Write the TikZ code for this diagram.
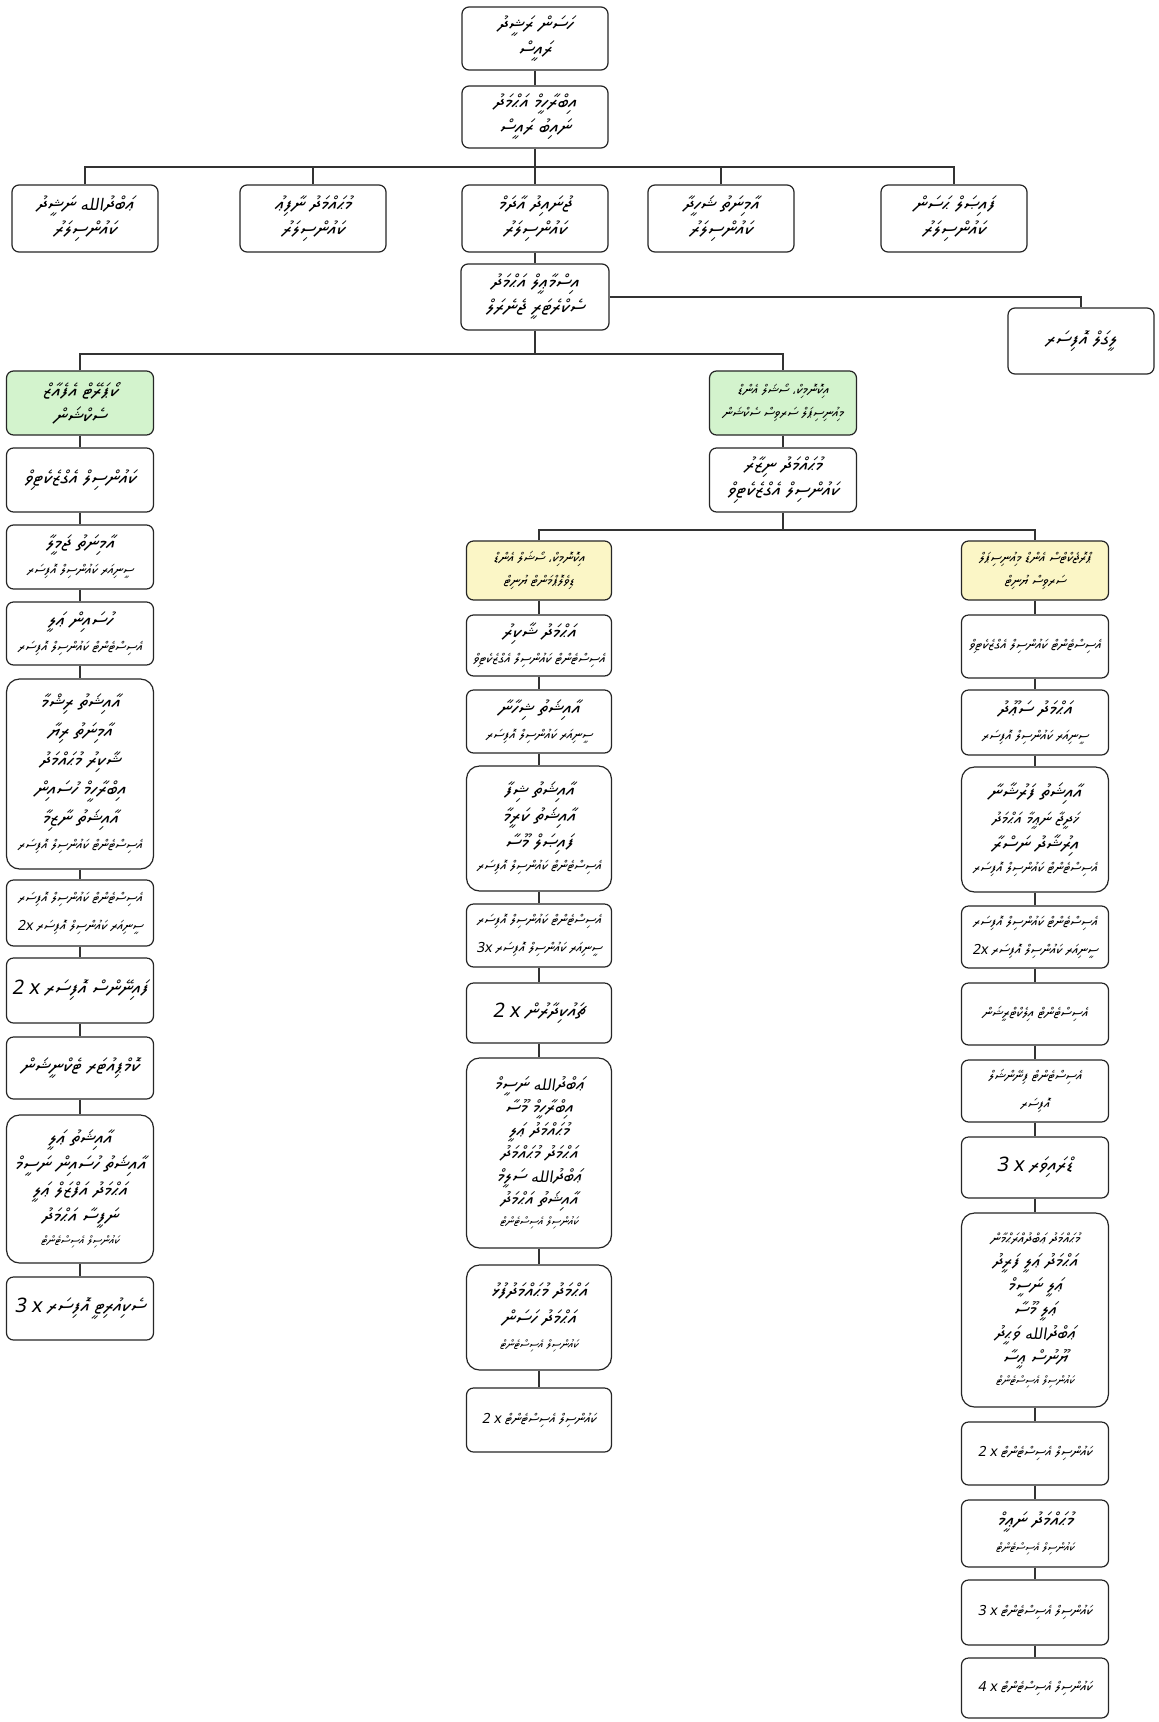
\documentclass[tikz,border=0pt]{standalone}
\usepackage{fontspec}
\newfontfamily\dv{Noto Sans Thaana}[Script=Thaana,FakeSlant=0.18]
\newfontfamily\arfont{DejaVu Sans}[Script=Arabic,Scale=0.8,FakeSlant=0.15]
\TeXXeTstate=1
\newcommand\dvl[1]{\beginR#1\endR}
\newcommand\smA{\fontsize{14}{18}\selectfont}
\newcommand\smB{\fontsize{12}{16}\selectfont}
\newcommand\allah{{\arfont الله}}
\newcommand\acomma{{\arfont ،}}
\definecolor{gfill}{HTML}{D3F3CD}
\definecolor{yfill}{HTML}{FBF6C6}
\tikzset{
 bx/.style={draw=black!85, line width=1.2pt, rounded corners=7pt, fill=white, align=center, inner sep=1pt, minimum width=146pt, font=\dv\fontsize{20}{25}\selectfont},
 bigbx/.style={bx, rounded corners=13pt},
 gbx/.style={bx, fill=gfill, font=\dv\fontsize{14}{23}\selectfont},
 ybx/.style={bx, fill=yfill, font=\dv\fontsize{14}{23}\selectfont},
 ln/.style={draw=black!80, line width=1.1pt},
}
\begin{document}
\begin{tikzpicture}[x=1pt,y=-1pt]
\useasboundingbox[fill=white] (0,0) rectangle (1159,1722);
% top
\node[bx,minimum height=63pt] (t1) at (535,38.5) {\dvl{ހަސަން ރަޝީދު}\\ \dvl{ރައީސް}};
\node[bx,minimum height=62pt] (t2) at (535,117) {\dvl{އިބްރާހީމް އަޙްމަދު}\\ \dvl{ނައިބު ރައީސް}};
% councillors
\node[bx,minimum height=67pt] (r1) at (85,218.5) {\dvl{ޢަބްދު\allah{} ނަޝީދު}\\ \dvl{ކައުންސިލަރު}};
\node[bx,minimum height=67pt] (r2) at (313,218.5) {\dvl{މުޙައްމަދު ނާފިޢު}\\ \dvl{ކައުންސިލަރު}};
\node[bx,minimum height=67pt] (r3) at (535,218.5) {\dvl{ޖުނައިދު އާދަމް}\\ \dvl{ކައުންސިލަރު}};
\node[bx,minimum height=67pt] (r4) at (721,218.5) {\dvl{އާމިނަތު ޝަހީދާ}\\ \dvl{ކައުންސިލަރު}};
\node[bx,minimum height=67pt] (r5) at (954,218.5) {\dvl{ފައިޞަލް ޙަސަން}\\ \dvl{ކައުންސިލަރު}};
% secretary general & legal
\node[bx,minimum height=66pt,minimum width=148pt] (sec) at (535,297) {\dvl{އިސްމާޢީލް އަޙްމަދު}\\ \dvl{ސެކްރެޓަރީ ޖެނެރަލް}};
\node[bx,minimum height=66pt] (legal) at (1081,341) {\dvl{ލީގަލް އޮފިސަރ}};
% left column
\node[gbx,minimum height=64pt,minimum width=147pt,font=\dv\fontsize{20}{25}\selectfont] (l1) at (80,403) {\dvl{ކޯޕަރޭޓް އެފެއާޒް}\\ \dvl{ސެކްޝަން}};
\node[bx,minimum height=64pt,minimum width=147pt] (l2) at (80,480) {\dvl{ކައުންސިލް އެގްޒެކެޓިވް}};
\node[bx,minimum height=64pt,minimum width=147pt] (l3) at (80,557) {\dvl{އާމިނަތު ޖަމީލާ}\\ {\smA\dvl{ސީނިއަރ ކައުންސިލް އޮފިސަރ}}};
\node[bx,minimum height=63pt,minimum width=147pt] (l4) at (80,633.5) {\dvl{ހުސައިން ޢަލީ}\\ {\smA\dvl{އެސިސްޓެންޓް ކައުންސިލް އޮފިސަރ}}};
\node[bigbx,minimum height=190pt,minimum width=147pt,font=\dv\fontsize{20}{29}\selectfont] (l5) at (80,774) {\dvl{އާއިޝަތު ރިޝްމާ}\\ \dvl{އާމިނަތު ރިޔާ}\\ \dvl{ޝާކިރު މުޙައްމަދު}\\ \dvl{އިބްރާހީމް ހުސައިން}\\ \dvl{އާއިޝަތު ނާޒިމާ}\\[-4pt] {\smA\dvl{އެސިސްޓެންޓް ކައުންސިލް އޮފިސަރ}}};
\node[bx,minimum height=66pt,minimum width=147pt,font=\dv\fontsize{14}{28}\selectfont] (l6) at (80,913) {\dvl{އެސިސްޓެންޓް ކައުންސިލް އޮފިސަރ}\\ \dvl{ސީނިއަރ ކައުންސިލް އޮފިސަރ \beginL 2x\endL}};
\node[bx,minimum height=65pt,minimum width=147pt] (l7) at (80,990.5) {\dvl{ފައިނޭންސް އޮފިސަރ \beginL 2 x\endL}};
\node[bx,minimum height=62pt,minimum width=147pt] (l8) at (80,1068) {\dvl{ކޮމްޕިއުޓަރ ޓެކްނީޝަން}};
\node[bigbx,minimum height=148pt,minimum width=147pt,font=\dv\fontsize{20}{26}\selectfont] (l9) at (80,1189) {\dvl{އާއިޝަތު ޢަލީ}\\ \dvl{އާއިޝަތު ހުސައިން ނަސީމް}\\ \dvl{އަޙްމަދު އަފްޒަލް ޢަލީ}\\ \dvl{ނަފީސާ އަޙްމަދު}\\[-4pt] {\smB\dvl{ކައުންސިލް އެސިސްޓެންޓް}}};
\node[bx,minimum height=63pt,minimum width=147pt] (l10) at (80,1308.5) {\dvl{ސެކިއުރިޓީ އޮފިސަރ \beginL 3 x\endL}};
% middle section
\node[gbx,minimum height=64pt,minimum width=147pt] (m0) at (783,403) {\dvl{އިކޮނޮމިކް\acomma{} ސޯޝަލް އެންޑް}\\ \dvl{މިއުނިސިޕަލް ސަރވިސް ސެކްޝަން}};
\node[bx,minimum height=64pt,minimum width=147pt] (m0b) at (783,480) {\dvl{މުޙައްމަދު ނިޒާރު}\\ \dvl{ކައުންސިލް އެގްޒެކެޓިވް}};
% middle column
\node[ybx,minimum height=59pt,minimum width=145pt] (c1) at (539,570.5) {\dvl{އިކޮނޮމިކް\acomma{} ސޯޝަލް އެންޑް}\\ \dvl{ޑިވެލޮޕްމަންޓް ޔުނިޓް}};
\node[bx,minimum height=61pt,minimum width=145pt] (c2) at (539,645.5) {\dvl{އަޙްމަދު ޝާކިރު}\\ {\smA\dvl{އެސިސްޓެންޓް ކައުންސިލް އެގްޒެކެޓިވް}}};
\node[bx,minimum height=63pt,minimum width=145pt] (c3) at (539,721.5) {\dvl{އާއިޝަތު ޝިހާނާ}\\ {\smA\dvl{ސީނިއަރ ކައުންސިލް އޮފިސަރ}}};
\node[bigbx,minimum height=125pt,minimum width=145pt,font=\dv\fontsize{20}{26}\selectfont] (c4) at (539,828.5) {\dvl{އާއިޝަތު ޝިފާ}\\ \dvl{އާއިޝަތު ކަރީމާ}\\ \dvl{ފައިޞަލް މޫސާ}\\[-4pt] {\smA\dvl{އެސިސްޓެންޓް ކައުންސިލް އޮފިސަރ}}};
\node[bx,minimum height=63pt,minimum width=145pt,font=\dv\fontsize{14}{28}\selectfont] (c5) at (539,935.5) {\dvl{އެސިސްޓެންޓް ކައުންސިލް އޮފިސަރ}\\ \dvl{ސީނިއަރ ކައުންސިލް އޮފިސަރ \beginL 3x\endL}};
\node[bx,minimum height=60pt,minimum width=145pt] (c6) at (539,1013) {\dvl{ޗައުކިދާރުން \beginL 2 x\endL}};
\node[bigbx,minimum height=190pt,minimum width=145pt,font=\dv\fontsize{19}{23}\selectfont] (c7) at (539,1153) {\dvl{ޢަބްދު\allah{} ނަސީމް}\\ \dvl{އިބްރާހީމް މޫސާ}\\ \dvl{މުޙައްމަދު ޢަލީ}\\ \dvl{އަޙްމަދު މުޙައްމަދު}\\ \dvl{ޢަބްދު\allah{} ސަލީމް}\\ \dvl{އާއިޝަތު އަޙްމަދު}\\[-3pt] {\smB\dvl{ކައުންސިލް އެސިސްޓެންޓް}}};
\node[bigbx,minimum height=105pt,minimum width=145pt,font=\dv\fontsize{20}{27}\selectfont] (c8) at (539,1317.5) {\dvl{އަޙްމަދު މުޙައްމަދުފުޅު}\\ \dvl{އަޙްމަދު ހަސަން}\\[-3pt] {\smB\dvl{ކައުންސިލް އެސިސްޓެންޓް}}};
\node[bx,minimum height=64pt,minimum width=145pt] (c9) at (539,1420) {{\smA\dvl{ކައުންސިލް އެސިސްޓެންޓް \beginL 2 x\endL}}};
% right column
\node[ybx,minimum height=59pt,minimum width=147pt] (q1) at (1035,570.5) {\dvl{ޕްރޮޖެކްޓްސް އެންޑް މިއުނިސިޕަލް}\\ \dvl{ސަރވިސް ޔުނިޓް}};
\node[bx,minimum height=63pt,minimum width=147pt] (q2) at (1035,646.5) {{\smA\dvl{އެސިސްޓެންޓް ކައުންސިލް އެގްޒެކެޓިވް}}};
\node[bx,minimum height=65pt,minimum width=147pt] (q3) at (1035,722.5) {\dvl{އަޙްމަދު ސަޢޫދު}\\ {\smA\dvl{ސީނިއަރ ކައުންސިލް އޮފިސަރ}}};
\node[bigbx,minimum height=125pt,minimum width=147pt,font=\dv\fontsize{20}{26}\selectfont] (q4) at (1035,829.5) {\dvl{އާއިޝަތު ފަރުޝާނާ}\\ {\fontsize{17}{20}\selectfont\dvl{ޚަދީޖާ ނަޢީމާ އަޙްމަދު}}\\ \dvl{އިރުޝާދު ނަސްރާ}\\[-4pt] {\smA\dvl{އެސިސްޓެންޓް ކައުންސިލް އޮފިސަރ}}};
\node[bx,minimum height=62pt,minimum width=147pt,font=\dv\fontsize{14}{28}\selectfont] (q5) at (1035,937) {\dvl{އެސިސްޓެންޓް ކައުންސިލް އޮފިސަރ}\\ \dvl{ސީނިއަރ ކައުންސިލް އޮފިސަރ \beginL 2x\endL}};
\node[bx,minimum height=62pt,minimum width=147pt] (q6) at (1035,1014) {{\smA\dvl{އެސިސްޓެންޓް އިލެކްޓްރީޝަން}}};
\node[bx,minimum height=62pt,minimum width=147pt,font=\dv\fontsize{14}{28}\selectfont] (q7) at (1035,1091) {\dvl{އެސިސްޓެންޓް ފިނޭންޝަލް}\\ \dvl{އޮފިސަރ}};
\node[bx,minimum height=61pt,minimum width=147pt] (q8) at (1035,1167.5) {\dvl{ޑްރައިވަރ \beginL 3 x\endL}};
\node[bigbx,minimum height=194pt,minimum width=147pt,font=\dv\fontsize{19}{24}\selectfont] (q9) at (1035,1310) {{\fontsize{14.5}{18}\selectfont\dvl{މުޙައްމަދު ޢަބްދުއްރަޙްމާން}}\\ \dvl{އަޙްމަދު ޢަލީ ފަރީދު}\\ \dvl{ޢަލީ ނަސީމް}\\ \dvl{ޢަލީ މޫސާ}\\ \dvl{ޢަބްދު\allah{} ވަޙީދު}\\ \dvl{ޔޫނުސް ޢީސާ}\\[-3pt] {\smB\dvl{ކައުންސިލް އެސިސްޓެންޓް}}};
\node[bx,minimum height=63pt,minimum width=147pt] (q10) at (1035,1453.5) {{\smA\dvl{ކައުންސިލް އެސިސްޓެންޓް \beginL 2 x\endL}}};
\node[bx,minimum height=67pt,minimum width=147pt] (q11) at (1035,1533.5) {\dvl{މުޙައްމަދު ނަޢީމް}\\ {\smB\dvl{ކައުންސިލް އެސިސްޓެންޓް}}};
\node[bx,minimum height=65pt,minimum width=147pt] (q12) at (1035,1612.5) {{\smA\dvl{ކައުންސިލް އެސިސްޓެންޓް \beginL 3 x\endL}}};
\node[bx,minimum height=60pt,minimum width=147pt] (q13) at (1035,1688) {{\smA\dvl{ކައުންސިލް އެސިސްޓެންޓް \beginL 4 x\endL}}};
% connectors
\coordinate (j1) at (535,167);
\coordinate (j2) at (535,354);
\coordinate (j3) at (783,530);
\draw[ln] (t1) -- (t2);
\draw[ln] (t2) -- (r3);
\draw[ln] (r1.north) |- (j1) -| (r5.north);
\draw[ln] (r2.north) -- (r2.north |- j1);
\draw[ln] (r4.north) -- (r4.north |- j1);
\draw[ln] (r3) -- (sec);
\draw[ln] (sec.east) -| (legal.north);
\draw[ln] (sec) -- (j2);
\draw[ln] (l1.north) |- (j2) -| (m0.north);
\draw[ln] (m0) -- (m0b);
\draw[ln] (m0b) -- (j3);
\draw[ln] (c1.north) |- (j3) -| (q1.north);
\foreach \a/\b in {l1/l2,l2/l3,l3/l4,l4/l5,l5/l6,l6/l7,l7/l8,l8/l9,l9/l10,
  c1/c2,c2/c3,c3/c4,c4/c5,c5/c6,c6/c7,c7/c8,c8/c9,
  q1/q2,q2/q3,q3/q4,q4/q5,q5/q6,q6/q7,q7/q8,q8/q9,q9/q10,q10/q11,q11/q12,q12/q13}
  \draw[ln] (\a) -- (\b);
\end{tikzpicture}
\end{document}
